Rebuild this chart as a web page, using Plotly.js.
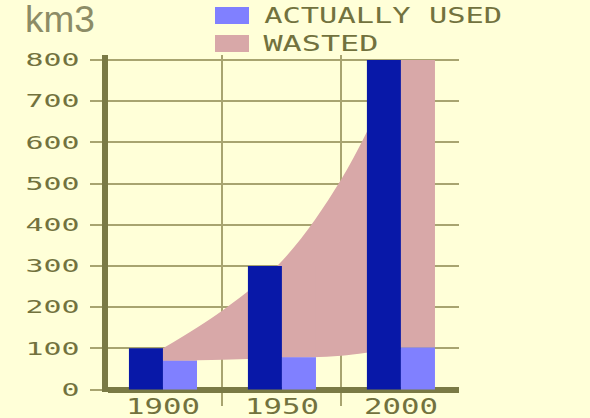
<!DOCTYPE html>
<html><head><meta charset="utf-8">
<script src="https://cdn.plot.ly/plotly-3.0.1.min.js"></script>
<style>
html,body{margin:0;padding:0;background:#FFFFD8;}
#chart{width:590px;height:418px;}
</style></head><body><div id="chart"></div>
<script>
// ---- data ----
const years = [1900, 1950, 2000];
const yearLabels = ['1900', '1950', '2000'];
const totalWithdrawn = [100, 300, 800];
const actuallyUsed = [70, 78, 102];
const trendYears = [1900, 1925, 1950, 1975, 2000];
const trendTotal = [100, 192, 312, 511, 800];
const trendUsed = [70, 72, 77, 82, 102];
const yTickVals = [0, 100, 200, 300, 400, 500, 600, 700, 800];
const legendLabels = ['ACTUALLY USED', 'WASTED'];
const unitLabel = 'km3';
const wasted = totalWithdrawn.map((t, i) => t - actuallyUsed[i]);

// ---- style ----
const BG = '#FFFFD8', GRID = '#A8A470', AXIS = '#7A7A45', TXT = '#72723E';
const DARK = '#0818A8', LIGHT = '#8080FF', PINK = '#D8A8A8';
const BAR_W = 14.3;
const XR = [1876.9, 2024.4], YR = [-6.07, 812.1];
const M = {l: 108, r: 131, t: 55, b: 26};
const PW = 590 - M.l - M.r, PH = 418 - M.t - M.b;
const px = x => (x - M.l) / PW, py = y => (418 - M.b - y) / PH;
const bounds = years.slice(1).map((y, i) => (y + years[i]) / 2);
const MONO = 'DejaVu Sans Mono';

const traces = [
  {type: 'scatter', x: trendYears, y: trendUsed, mode: 'lines',
   line: {width: 0, shape: 'spline'}, hoverinfo: 'skip', showlegend: false},
  {type: 'scatter', x: trendYears, y: trendTotal, mode: 'lines',
   line: {width: 0, shape: 'spline'}, fill: 'tonexty', fillcolor: PINK,
   hoverinfo: 'skip', showlegend: false},
  {type: 'bar', xaxis: 'x2', yaxis: 'y2', x: years, y: totalWithdrawn,
   width: BAR_W, offset: -BAR_W, marker: {color: DARK, line: {width: 0}}, showlegend: false},
  {type: 'bar', xaxis: 'x2', yaxis: 'y2', x: years, y: wasted, base: actuallyUsed,
   width: BAR_W, offset: 0, marker: {color: PINK, line: {width: 0}}, showlegend: false},
  {type: 'bar', xaxis: 'x2', yaxis: 'y2', x: years, y: actuallyUsed,
   width: BAR_W, offset: 0, marker: {color: LIGHT, line: {width: 0}}, showlegend: false}
];

const legendColors = [LIGHT, PINK];
const legendY = [15.5, 43.5];
const legendCenters = [382.5, 321];
const legendWidths = [238, 115];
const shapes = legendLabels.map((l, i) => ({
  type: 'rect', xref: 'paper', yref: 'paper',
  x0: px(215), x1: px(249), y0: py(legendY[i] - 8.5), y1: py(legendY[i] + 8.5),
  fillcolor: legendColors[i], line: {width: 0}
}));
const annotations = legendLabels.map((l, i) => ({
  text: l, xref: 'paper', yref: 'paper', x: px(legendCenters[i]), y: py(legendY[i]),
  xanchor: 'center', yanchor: 'middle', showarrow: false,
  font: {family: MONO, size: 21, color: TXT}
}));

const layout = {
  width: 590, height: 418, margin: M,
  paper_bgcolor: BG, plot_bgcolor: BG,
  barmode: 'overlay', showlegend: false,
  title: {text: unitLabel, font: {family: 'Liberation Sans', size: 37, color: '#8C8C66'},
          xref: 'container', yref: 'container', x: 25 / 590, xanchor: 'left',
          y: 1 - 6 / 418, yanchor: 'top', pad: {t: 0, l: 0, r: 0, b: 0}},
  xaxis: {range: XR, tickmode: 'array', tickvals: years, ticktext: yearLabels,
          ticks: '', showgrid: false, zeroline: false, showline: false,
          ticklabelstandoff: 0,
          tickfont: {family: MONO, size: 21, color: TXT},
          minor: {tickmode: 'array', tickvals: bounds, ticks: 'outside', ticklen: 13,
                  tickwidth: 2, tickcolor: GRID, showgrid: true, gridcolor: GRID, gridwidth: 2}},
  yaxis: {range: YR, tickmode: 'array', tickvals: yTickVals, ticks: 'outside', ticklen: 12,
          tickwidth: 2, tickcolor: GRID, showgrid: true, gridcolor: GRID, gridwidth: 2,
          zeroline: true, zerolinecolor: AXIS, zerolinewidth: 6,
          showline: true, linewidth: 6, linecolor: AXIS,
          ticklabelstandoff: 7, layer: 'below traces',
          tickfont: {family: MONO, size: 18, color: TXT}},
  xaxis2: {overlaying: 'x', anchor: 'y2', range: XR, visible: false},
  yaxis2: {overlaying: 'y', anchor: 'x2', range: YR, visible: false},
  shapes: shapes, annotations: annotations
};

function stretch(sel, widthFor) {
  document.querySelectorAll(sel).forEach((t, i) => {
    const w = widthFor(t.textContent, i);
    t.setAttribute('textLength', w);
    t.setAttribute('lengthAdjust', 'spacingAndGlyphs');
  });
}

Plotly.newPlot('chart', traces, layout, {staticPlot: true, displayModeBar: false}).then(() => {
  stretch('.ytick text', s => s.length * 18);
  stretch('.xtick text', s => s.length * 18.5);
  document.querySelectorAll('.annotation-text').forEach(t => {
    const i = legendLabels.indexOf(t.textContent);
    if (i >= 0) {
      t.setAttribute('textLength', legendWidths[i]);
      t.setAttribute('lengthAdjust', 'spacingAndGlyphs');
    }
  });
});
</script></body></html>
